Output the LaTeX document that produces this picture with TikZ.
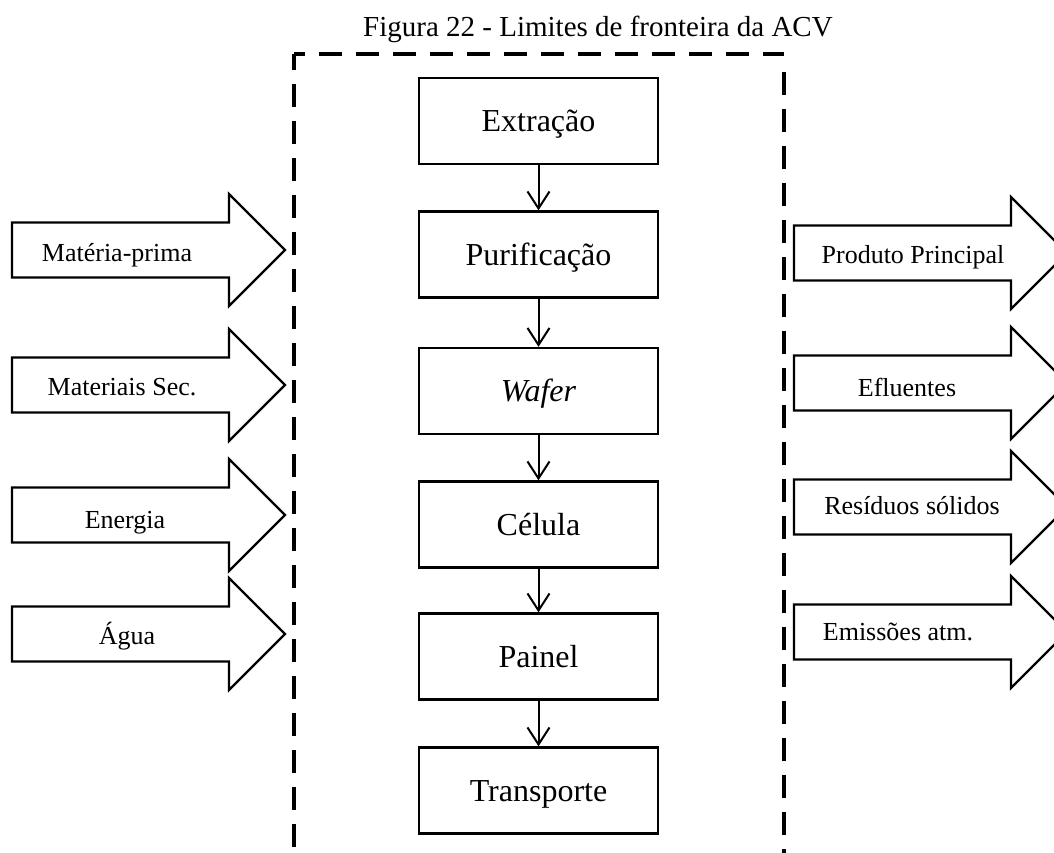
\documentclass[tikz,border=0pt]{standalone}
\usepackage{fontspec}
\setmainfont{Liberation Serif}
\usetikzlibrary{arrows.meta}

\tikzset{
  stage/.style={draw, line width=2.4pt, minimum width=239pt, minimum height=86pt,
    inner sep=0pt, text height=21pt, text depth=0pt, font=\fontsize{32}{38}\selectfont},
  flow/.style={line width=2pt, -{Straight Barb[length=17pt,width=22pt]}},
  boundary/.style={line width=4.5pt, dash pattern=on 23pt off 14pt},
  tag/.style={inner sep=0pt, text height=17pt, text depth=0pt, font=\fontsize{26}{30}\selectfont},
  bigarrow/.pic={\draw[line width=2.2pt, fill=white, line join=miter]
    (0,-27.5) -- (217,-27.5) -- (217,-56) -- (273,0) -- (217,56) -- (217,27.5) -- (0,27.5) -- cycle;}
}

\begin{document}
\begin{tikzpicture}[x=1pt,y=-1pt]
  \useasboundingbox (0,0) rectangle (1054,852);
  \clip (0,0) rectangle (1054,852);
  % caption
  \node[anchor=base west, inner sep=0pt, font=\fontsize{29}{34}\selectfont] (title) at (363,36)
    {Figura 22 - Limites de fronteira da ACV};
  % system boundary
  \coordinate (tl) at (294,54);
  \coordinate (tr) at (784,54);
  \draw[boundary, dash phase=7pt] (tl) -- (294,860);
  \draw[boundary, dash phase=12pt] (tl) -- (tr);
  \draw[boundary, dash phase=23pt] (784,58) -- (784,860);
  % process chain
  \node[stage] (ext) at (538.5,121) {Extração};
  \node[stage] (pur) at (538.5,254.5) {Purificação};
  \node[stage] (waf) at (538.5,391) {\textit{Wafer}};
  \node[stage] (cel) at (538.5,524.5) {Célula};
  \node[stage] (pai) at (538.5,656.5) {Painel};
  \node[stage] (tra) at (538.5,790.5) {Transporte};
  \draw[flow] (ext) -- (pur);
  \draw[flow] (pur) -- (waf);
  \draw[flow] (waf) -- (cel);
  \draw[flow] (cel) -- (pai);
  \draw[flow] (pai) -- (tra);
  % inputs
  \pic at (12,250) {bigarrow};
  \pic at (12,385) {bigarrow};
  \pic at (12,515) {bigarrow};
  \pic at (12,634) {bigarrow};
  \node[tag] (mat) at (117,253) {Matéria-prima};
  \node[tag] (sec) at (122,387) {Materiais Sec.};
  \node[tag] (ene) at (125,520) {Energia};
  \node[tag] (agu) at (127,636) {Água};
  % outputs (tips run off the page)
  \pic at (794,253) {bigarrow};
  \pic at (794,383) {bigarrow};
  \pic at (794,507) {bigarrow};
  \pic at (794,632) {bigarrow};
  \node[tag] (pro) at (913,255) {Produto Principal};
  \node[tag] (efl) at (907,388) {Efluentes};
  \node[tag] (res) at (912,506) {Resíduos sólidos};
  \node[tag] (emi) at (898,632) {Emissões atm.};
\end{tikzpicture}
\end{document}
